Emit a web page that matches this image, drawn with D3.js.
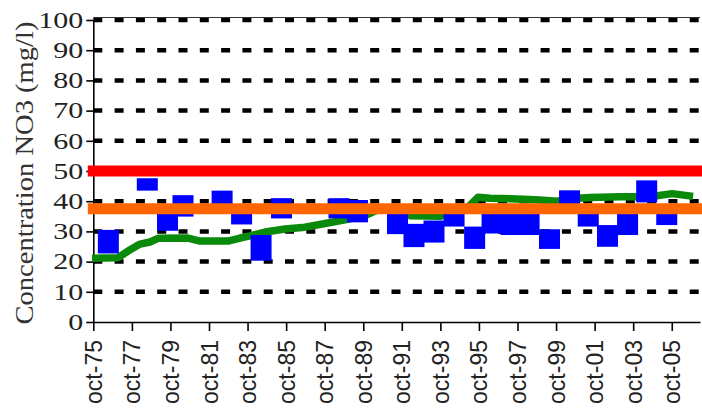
<!DOCTYPE html>
<html>
<head>
<meta charset="utf-8">
<script src="https://cdn.jsdelivr.net/npm/d3@7"></script>
<style>
 body { margin: 0; background: #fff; }
</style>
</head>
<body>
<div id="my_dataviz"></div>
<script>
var parseDate = d3.timeParse("%Y-%m-%d");

// blue: low / high of the measurements, one bar per campaign
var blueDates = ["1976-07-12", "1978-07-20", "1979-08-07", "1980-05-26", "1982-06-06",
 "1983-06-10", "1984-06-13", "1985-07-05", "1988-06-28", "1989-06-13",
 "1991-07-12", "1992-05-19", "1993-06-02", "1994-06-17", "1995-07-12",
 "1996-06-06", "1997-05-30", "1998-05-08", "1999-05-30", "2000-06-13",
 "2001-06-02", "2002-06-02", "2003-06-17", "2004-06-13", "2005-06-28"];
var blueLow = [22.7, 43.5, 30.2, 34.9, 38, 32.3, 20.3, 34.3, 34.3, 33,
 29.1, 24.8, 26.3, 31.6, 24.2, 29.3, 28.8, 28.8, 24.2, 38.5,
 31.6, 24.9, 28.8, 39.6, 32.1];
var blueHigh = [30.5, 47.6, 36.5, 42, 43.5, 36.5, 28.8, 41, 41, 40.4,
 36.5, 32.5, 33.6, 37, 31.6, 37, 37, 37, 30.7, 43.6,
 36.5, 32.1, 36.5, 46.9, 36.5];

// green: trend line
var greenDates = ["1975-09-06", "1977-01-11", "1977-07-20", "1978-03-04", "1978-09-09",
 "1979-02-10", "1980-08-29", "1981-04-13", "1982-09-27", "1983-05-12",
 "1983-11-18", "1984-08-29", "1985-09-10", "1986-09-24", "1987-10-09",
 "1988-10-19", "1989-11-03", "1990-08-15", "1991-08-29", "1992-03-07",
 "1993-09-24", "1994-07-05", "1995-03-11", "1995-09-16", "1996-05-01",
 "1997-05-16", "1998-09-02", "1999-10-20", "2000-06-24", "2001-07-09",
 "2003-01-26", "2004-08-17", "2005-10-08", "2006-11-10"];
var greenValues = [21.1, 21.3, 23.5, 25.8, 26.5, 27.7, 27.8, 26.8, 26.8, 27.8,
 28.5, 29.8, 30.8, 31.4, 32.6, 33.8, 35.2, 37.5, 37.5, 35.2,
 35, 36.5, 38, 41.3, 41, 40.8, 40.5, 40, 40.8, 41.2,
 41.5, 41.5, 42.5, 41.6];

// reference levels
var redLevel = 50;
var orangeLevel = 37.5;

// axes
var xDomain = ["1975-10-01", "2007-03-20"];
var xTickDates = ["1975-10-01", "1977-10-01", "1979-10-01", "1981-10-01", "1983-10-01",
 "1985-10-01", "1987-10-01", "1989-10-01", "1991-10-01", "1993-10-01", "1995-10-01",
 "1997-10-01", "1999-10-01", "2001-10-01", "2003-10-01", "2005-10-01"];
var xTickLabels = ["oct-75", "oct-77", "oct-79", "oct-81", "oct-83", "oct-85", "oct-87",
 "oct-89", "oct-91", "oct-93", "oct-95", "oct-97", "oct-99", "oct-01", "oct-03", "oct-05"];
var yTicks = [0, 10, 20, 30, 40, 50, 60, 70, 80, 90, 100];
var yTitle = "Concentration NO3 (mg/l)";

var svgWidth = 702;
var svgHeight = 412;
var margin = {
 top: 20,
 right: 2,
 bottom: 90,
 left: 93.3
};
var width = svgWidth - margin.left - margin.right;
var height = svgHeight - margin.top - margin.bottom;

var svg = d3.select("#my_dataviz")
 .append("svg")
   .attr("width", svgWidth)
   .attr("height", svgHeight)
 .append("g")
   .attr("transform", "translate(" + margin.left + "," + margin.top + ")");

var x = d3.scaleTime()
 .domain(xDomain.map(parseDate))
 .range([0, width]);
var y = d3.scaleLinear()
 .domain([0, 100])
 .range([height, 0]);

// dotted grid
svg.append("g")
 .selectAll("line")
 .data(yTicks.filter(function (d) { return d > 0; }))
 .enter()
 .append("line")
   .attr("x1", 0)
   .attr("x2", width)
   .attr("y1", function (d) { return y(d); })
   .attr("y2", function (d) { return y(d); })
   .style("stroke", "#000")
   .style("stroke-width", 4.5)
   .style("stroke-dasharray", "9,12.3");

// thin frame on top
svg.append("line")
 .attr("x1", 0)
 .attr("x2", width)
 .attr("y1", y(100) - 2.5)
 .attr("y2", y(100) - 2.5)
 .style("stroke", "#333")
 .style("stroke-width", 1.2);

// Y axis
var yAxis = svg.append("g")
 .call(d3.axisLeft(y).tickValues(yTicks).tickSize(7).tickSizeOuter(0).tickPadding(3));
yAxis.select(".domain").style("stroke-width", 1.6);
yAxis.selectAll(".tick line").style("stroke-width", 1.6);
// the labels are drawn wide in the original
yAxis.selectAll("text")
 .attr("textLength", function (d) { return String(d).length * 15; })
 .attr("lengthAdjust", "spacingAndGlyphs")
 .style("font-family", "'Liberation Serif', serif")
 .style("font-size", "23px")
 .style("fill", "#222");

// X axis
var xAxis = svg.append("g")
 .attr("transform", "translate(0," + height + ")")
 .call(d3.axisBottom(x)
   .tickValues(xTickDates.map(parseDate))
   .tickFormat(function (d, i) { return xTickLabels[i]; })
   .tickSize(9)
   .tickSizeOuter(0));
xAxis.select(".domain").style("stroke-width", 1.6);
xAxis.selectAll(".tick line").style("stroke-width", 1.6);
xAxis.selectAll("text")
 .attr("transform", "rotate(-90)")
 .attr("text-anchor", "end")
 .attr("x", -18)
 .attr("y", 0)
 .attr("dy", "0.35em")
 .style("font-family", "'Liberation Sans', Arial, sans-serif")
 .style("font-size", "23px")
 .style("fill", "#222");

// Y title
svg.append("text")
 .attr("transform", "translate(" + (33 - margin.left) + "," + (height / 2 + 2) + ") rotate(-90)")
 .attr("text-anchor", "middle")
 .attr("textLength", 303)
 .attr("lengthAdjust", "spacingAndGlyphs")
 .style("font-family", "'Liberation Serif', serif")
 .style("font-size", "25px")
 .style("fill", "#333")
 .text(yTitle);

// green trend line
var greenData = greenDates.map(function (d, i) {
 return { date: parseDate(d), value: greenValues[i] };
});
svg.append("path")
 .datum(greenData)
 .attr("fill", "none")
 .attr("stroke", "#0a8a0a")
 .attr("stroke-width", 7.5)
 .attr("stroke-linejoin", "round")
 .attr("d", d3.line()
   .x(function (d) { return x(d.date); })
   .y(function (d) { return y(d.value); }));

// blue bars
var blueData = blueDates.map(function (d, i) {
 return { date: parseDate(d), low: blueLow[i], high: blueHigh[i] };
});
svg.append("g")
 .selectAll("rect")
 .data(blueData)
 .enter()
 .append("rect")
   .attr("x", function (d) { return x(d.date) - 10.5; })
   .attr("width", 21)
   .attr("y", function (d) { return y(d.high); })
   .attr("height", function (d) { return y(d.low) - y(d.high); })
   .style("fill", "#0000ff");

// reference levels
[[orangeLevel, "#ff6600"], [redLevel, "#ff0000"]].forEach(function (lv) {
 svg.append("line")
   .attr("x1", x(x.domain()[0]))
   .attr("x2", x(x.domain()[1]))
   .attr("y1", y(lv[0]))
   .attr("y2", y(lv[0]))
   .style("stroke", lv[1])
   .style("stroke-width", 11)
   .style("stroke-linecap", "square");
});
</script>
</body>
</html>
